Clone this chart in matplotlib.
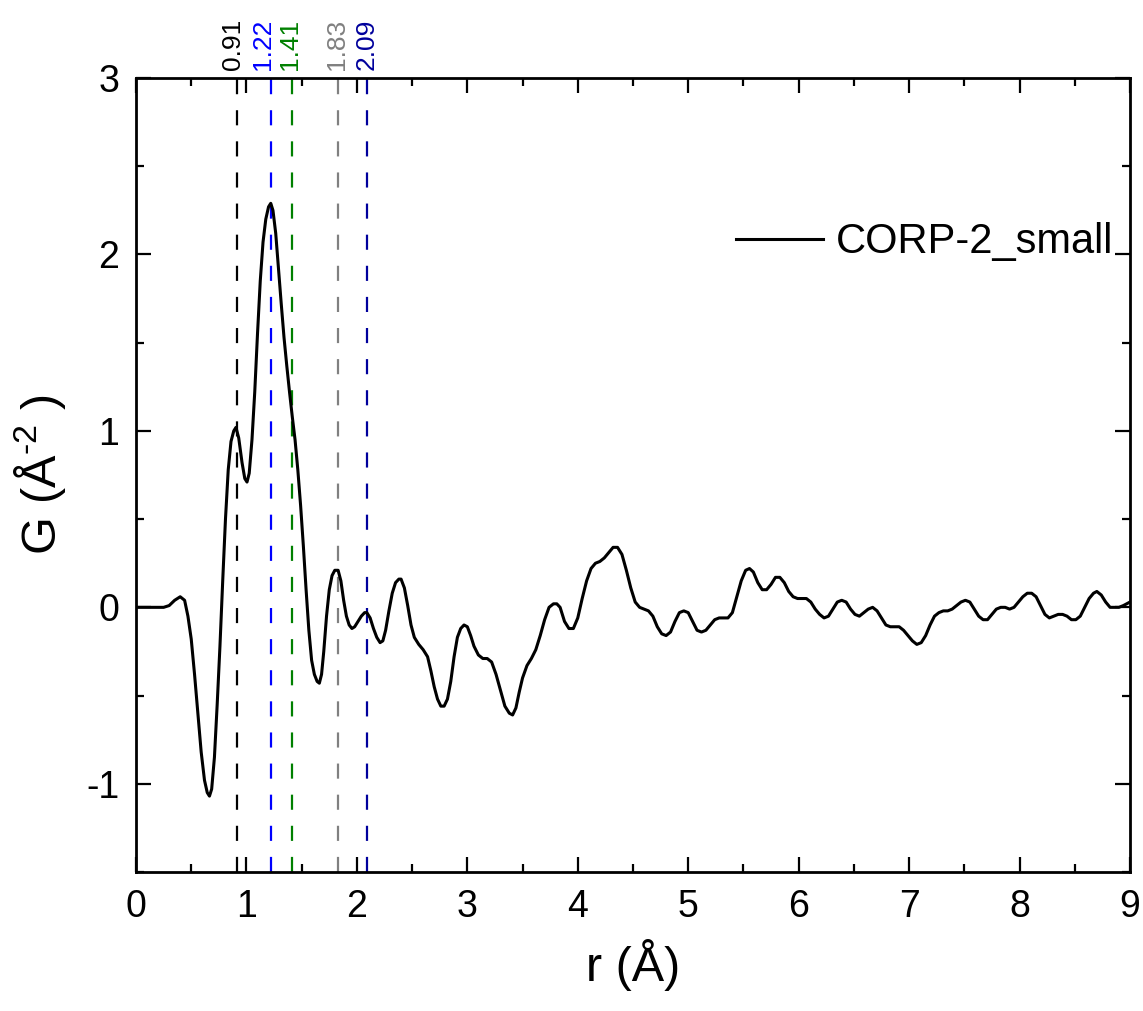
import numpy as np
import matplotlib.pyplot as plt
from matplotlib.ticker import MultipleLocator

# Schrift wie im Original (Arial-aehnlich)
plt.rcParams['font.family'] = ['Liberation Sans', 'DejaVu Sans']
plt.rcParams['mathtext.fontset'] = 'custom'
plt.rcParams['mathtext.rm'] = 'Liberation Sans'
plt.rcParams['mathtext.it'] = 'Liberation Sans:italic'
plt.rcParams['axes.unicode_minus'] = False

# Daten
#------------------
r = [0.0, 0.1, 0.2, 0.25, 0.3, 0.35, 0.40, 0.44, 0.47, 0.50, 0.53, 0.56, 0.59,
     0.62, 0.645, 0.665, 0.685, 0.71, 0.735, 0.76, 0.785, 0.81, 0.835, 0.86,
     0.885, 0.905, 0.93, 0.96, 0.985, 1.005, 1.025, 1.05, 1.075, 1.10, 1.125,
     1.15, 1.175, 1.20, 1.22, 1.24, 1.265, 1.29, 1.315, 1.34, 1.365, 1.39,
     1.415, 1.44, 1.465, 1.49, 1.515, 1.54, 1.565, 1.59, 1.615, 1.64, 1.66,
     1.68, 1.70, 1.725, 1.75, 1.775, 1.80, 1.83, 1.855, 1.88, 1.905, 1.93,
     1.955, 1.98, 2.01, 2.04, 2.07, 2.09, 2.12, 2.15, 2.18, 2.21, 2.235, 2.26,
     2.29, 2.32, 2.35, 2.38, 2.40, 2.43, 2.46, 2.49, 2.52, 2.56, 2.60, 2.64,
     2.67, 2.70, 2.73, 2.76, 2.79, 2.82, 2.85, 2.88, 2.91, 2.94, 2.97, 3.0,
     3.03, 3.06, 3.10, 3.14, 3.18, 3.22, 3.26, 3.30, 3.34, 3.38, 3.41, 3.44,
     3.47, 3.50, 3.54, 3.58, 3.62, 3.66, 3.70, 3.74, 3.78, 3.81, 3.84, 3.88,
     3.92, 3.96, 4.0, 4.04, 4.08, 4.12, 4.16, 4.20, 4.24, 4.28, 4.32, 4.36,
     4.40, 4.44, 4.48, 4.52, 4.56, 4.60, 4.64, 4.68, 4.72, 4.76, 4.80, 4.84,
     4.88, 4.92, 4.96, 5.0, 5.04, 5.08, 5.12, 5.16, 5.20, 5.24, 5.28, 5.32,
     5.36, 5.40, 5.44, 5.48, 5.52, 5.555, 5.59, 5.63, 5.67, 5.71, 5.75, 5.79,
     5.83, 5.87, 5.91, 5.95, 5.99, 6.03, 6.07, 6.11, 6.15, 6.19, 6.23, 6.27,
     6.31, 6.35, 6.39, 6.43, 6.47, 6.51, 6.55, 6.59, 6.63, 6.67, 6.71, 6.75,
     6.79, 6.83, 6.87, 6.91, 6.95, 6.99, 7.03, 7.07, 7.11, 7.15, 7.19, 7.23,
     7.27, 7.31, 7.35, 7.39, 7.43, 7.47, 7.51, 7.55, 7.59, 7.63, 7.67, 7.71,
     7.75, 7.79, 7.83, 7.87, 7.91, 7.95, 7.99, 8.03, 8.07, 8.11, 8.15, 8.19,
     8.23, 8.27, 8.31, 8.35, 8.39, 8.43, 8.47, 8.51, 8.55, 8.59, 8.63, 8.67,
     8.70, 8.74, 8.78, 8.82, 8.86, 8.90, 8.94, 8.97, 9.0]
G = [0.0, 0.0, 0.0, 0.0, 0.01, 0.04, 0.06, 0.04, -0.05, -0.18, -0.38, -0.6,
     -0.82, -0.98, -1.05, -1.07, -1.03, -0.85, -0.55, -0.22, 0.15, 0.5, 0.78,
     0.94, 1.0, 1.02, 0.96, 0.82, 0.73, 0.71, 0.76, 0.95, 1.22, 1.55, 1.85,
     2.07, 2.2, 2.27, 2.29, 2.25, 2.12, 1.92, 1.72, 1.53, 1.37, 1.22, 1.08,
     0.95, 0.78, 0.58, 0.35, 0.1, -0.13, -0.3, -0.38, -0.42, -0.43, -0.38,
     -0.25, -0.05, 0.1, 0.18, 0.21, 0.21, 0.15, 0.04, -0.05, -0.1, -0.12,
     -0.11, -0.08, -0.05, -0.03, -0.03, -0.06, -0.12, -0.17, -0.2, -0.19,
     -0.13, -0.02, 0.08, 0.14, 0.16, 0.16, 0.11, 0.01, -0.1, -0.17, -0.21,
     -0.24, -0.28, -0.36, -0.45, -0.52, -0.56, -0.56, -0.52, -0.42, -0.28,
     -0.17, -0.12, -0.1, -0.11, -0.16, -0.22, -0.27, -0.29, -0.29, -0.31,
     -0.38, -0.47, -0.56, -0.6, -0.61, -0.57, -0.48, -0.4, -0.33, -0.29,
     -0.24, -0.16, -0.07, 0.0, 0.02, 0.02, 0.0, -0.08, -0.12, -0.12, -0.06,
     0.05, 0.15, 0.22, 0.25, 0.26, 0.28, 0.31, 0.34, 0.34, 0.3, 0.21, 0.11,
     0.03, 0.0, -0.01, -0.02, -0.05, -0.11, -0.15, -0.16, -0.14, -0.08,
     -0.03, -0.02, -0.03, -0.08, -0.13, -0.14, -0.13, -0.1, -0.07, -0.06,
     -0.06, -0.06, -0.03, 0.06, 0.15, 0.21, 0.22, 0.2, 0.14, 0.1, 0.1, 0.13,
     0.17, 0.17, 0.14, 0.09, 0.06, 0.05, 0.05, 0.05, 0.03, -0.01, -0.04,
     -0.06, -0.05, -0.01, 0.03, 0.04, 0.03, -0.01, -0.04, -0.05, -0.03, -0.01,
     0.0, -0.02, -0.06, -0.1, -0.11, -0.11, -0.11, -0.13, -0.16, -0.19, -0.21,
     -0.2, -0.16, -0.1, -0.05, -0.03, -0.02, -0.02, -0.01, 0.01, 0.03, 0.04,
     0.03, -0.01, -0.05, -0.07, -0.07, -0.04, -0.01, 0.0, 0.0, -0.01, 0.0,
     0.03, 0.06, 0.08, 0.08, 0.06, 0.01, -0.04, -0.06, -0.05, -0.04, -0.04,
     -0.05, -0.07, -0.07, -0.05, 0.0, 0.05, 0.08, 0.09, 0.07, 0.03, 0.0, 0.0,
     0.0, 0.01, 0.02, 0.03]

# Markierte Abstaende
peaks = [0.91, 1.22, 1.41, 1.83, 2.09]
peakLabels = ['0.91', '1.22', '1.41', '1.83', '2.09']
peakColors = ['black', '#0000FF', '#008000', '#808080', '#00009C']
# seitlicher Versatz der Beschriftungen (pt), damit sie sich nicht ueberlappen
labelShift = [-2.5, -5.5, -1.5, -0.5, -0.5]

# Plot
#-----
fig = plt.figure(figsize=(11.43, 10.11), dpi=100)
ax = fig.add_axes([0.119, 0.1375, 0.8696, 0.7853])

ax.plot(r, G, color='black', lw=2.2, label='CORP-2_small', zorder=3)

for p, lab, c, dx in zip(peaks, peakLabels, peakColors, labelShift):
    ax.axvline(p, color=c, lw=1.6, linestyle=(0, (6.8, 7.2)), zorder=2)
    ax.annotate(lab, xy=(p, 1.0), xycoords=ax.get_xaxis_transform(),
                xytext=(dx, 6), textcoords='offset points', rotation=90,
                ha='center', va='bottom', color=c, fontsize=19)

ax.set_xlim(0, 9)
ax.set_ylim(-1.5, 3)
ax.xaxis.set_major_locator(MultipleLocator(1))
ax.xaxis.set_minor_locator(MultipleLocator(0.5))
ax.yaxis.set_major_locator(MultipleLocator(1))
ax.yaxis.set_minor_locator(MultipleLocator(0.5))

ax.tick_params(which='both', direction='in', top=True, right=True,
               labelsize=27, width=1.6)
ax.tick_params(which='major', length=11, pad=12)
ax.tick_params(which='minor', length=5.5)
for s in ax.spines.values():
    s.set_linewidth(2)

ax.set_xlabel('r (Å)', fontsize=35, labelpad=10)
ax.set_ylabel(r'G (Å$^{\text{-}2}$ )', fontsize=35, labelpad=13)

ax.legend(loc='center right', bbox_to_anchor=(0.983, 0.793), frameon=False,
          fontsize=30, handlelength=2.1, handletextpad=0.3,
          borderaxespad=0, borderpad=0)

fig.savefig('out.png', dpi=100)
